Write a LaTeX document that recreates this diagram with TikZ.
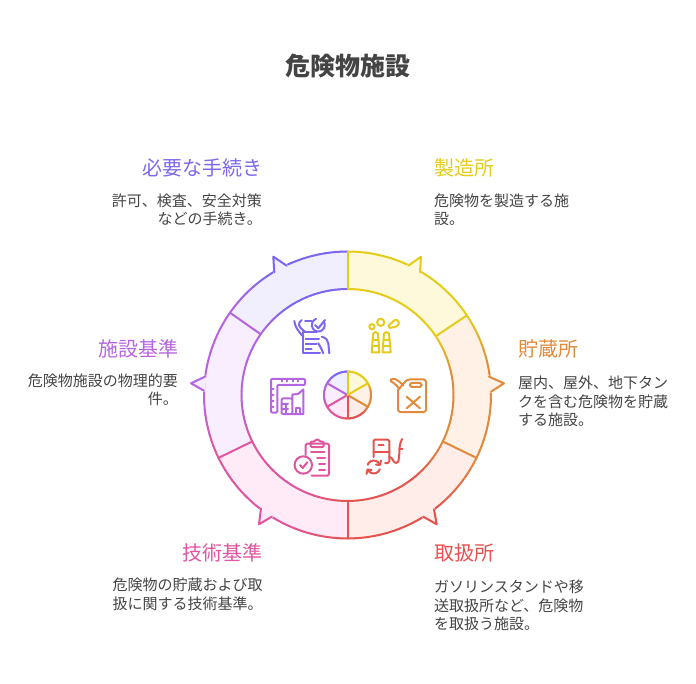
\documentclass[tikz,border=0pt]{standalone}
\usepackage{xcolor}
\usepackage{fontspec}
\setmainfont{Noto Sans CJK JP}
\usetikzlibrary{positioning, calc}
\definecolor{cYellow}{HTML}{E5CC1A}
\definecolor{cOrange}{HTML}{E08A3C}
\definecolor{cRed}{HTML}{E5534F}
\definecolor{cPink}{HTML}{E0559F}
\definecolor{cPurple}{HTML}{B565E0}
\definecolor{cIndigo}{HTML}{7B68EE}
\definecolor{pYellow}{HTML}{FFF9DB}
\definecolor{pOrange}{HTML}{FFF1E5}
\definecolor{pRed}{HTML}{FFEDEA}
\definecolor{pPink}{HTML}{FEEBF7}
\definecolor{pPurple}{HTML}{F9EEFE}
\definecolor{pIndigo}{HTML}{F1EFFE}
\definecolor{txtGray}{HTML}{444444}
\tikzset{
	segline/.style={line width=2pt, line cap=round, line join=round},
	iconline/.style={line width=2pt, line cap=round, line join=round},
	headlabel/.style={inner sep=0pt, font=\fontsize{20}{24}\selectfont},
	bodylabel/.style={inner sep=0pt, text=txtGray, font=\fontsize{15}{18.5}\selectfont}
}
% start angle, end angle, previous colour, own colour, fill, inner radius, outer radius
\newcommand{\ringSeg}[7]{
	\fill[#5] plot[domain=#1:#2, samples=40] ({347.5+#7*cos(\x)},{395-#7*sin(\x)})
		-- plot[domain=#2:#1, samples=40] ({347.5+#6*cos(\x)},{395-#6*sin(\x)}) -- cycle;
	\foreach \k in {0,...,23}{
		\pgfmathsetmacro{\aA}{#1+(#2-(#1))*\k/24}
		\pgfmathsetmacro{\aB}{#1+(#2-(#1))*(\k+1)/24}
		\pgfmathtruncatemacro{\mixp}{min(100,\k*100/9)}
		\draw[segline, draw=#4!\mixp!#3] ({347.5+#7*cos(\aA)},{395-#7*sin(\aA)}) -- ({347.5+#7*cos(\aB)},{395-#7*sin(\aB)})
			({347.5+#6*cos(\aA)},{395-#6*sin(\aA)}) -- ({347.5+#6*cos(\aB)},{395-#6*sin(\aB)});
	}
}
% arc point, tip, arc point, colour, fill
\newcommand{\ringTip}[5]{
	\filldraw[fill=#5, draw=#5, line width=2.4pt, line join=round] #1 -- #2 -- #3 -- cycle;
	\draw[segline, draw=#4] #1 -- #2 -- #3;
}
\begin{document}
\begin{tikzpicture}[x=1pt, y=-1pt]
	\useasboundingbox (0,0) rectangle (696,684);
	
	% Ring
	\ringSeg{90}{33.7}{cYellow}{cYellow}{pYellow}{106}{143.5}
	\ringSeg{33.7}{-26}{cYellow}{cOrange}{pOrange}{106}{143.5}
	\ringSeg{-26}{-90}{cOrange}{cRed}{pRed}{106}{143.5}
	\ringSeg{-90}{-154}{cRed}{cPink}{pPink}{106}{143.5}
	\ringSeg{-154}{-215}{cPink}{cPurple}{pPurple}{106}{143.5}
	\ringSeg{145}{90}{cPurple}{cIndigo}{pIndigo}{106}{143.5}
	\foreach \ang/\col in {33.7/cYellow, -26/cOrange, -90/cRed, -154/cPink, 145/cPurple, 90/cYellow}{
		\draw[segline, draw=\col] ({347.5+106*cos(\ang)},{395-106*sin(\ang)}) -- ({347.5+143.5*cos(\ang)},{395-143.5*sin(\ang)});
	}
	
	% Tips on the ring
	\ringTip{(408.3,265.7)}{(421,256.7)}{(420,272.3)}{cYellow}{pYellow}
	\ringTip{(489,376.7)}{(504,383.3)}{(491,391.7)}{cOrange}{pOrange}
	\ringTip{(423.3,516.7)}{(436.7,524.3)}{(434,509.3)}{cRed}{pRed}
	\ringTip{(271.7,516.7)}{(259,524.3)}{(261,508.3)}{cPink}{pPink}
	\ringTip{(205,376.7)}{(191,383.3)}{(204,390.7)}{cPurple}{pPurple}
	\ringTip{(286.7,265.7)}{(273.3,256.7)}{(274.3,272.3)}{cIndigo}{pIndigo}
	
	% Small pie in the middle
	\ringSeg{90}{30}{cYellow}{cYellow}{pYellow}{0}{23.5}
	\ringSeg{30}{-30}{cYellow}{cOrange}{pOrange}{0}{23.5}
	\ringSeg{-30}{-90}{cOrange}{cRed}{pRed}{0}{23.5}
	\ringSeg{-90}{-150}{cRed}{cPink}{pPink}{0}{23.5}
	\ringSeg{-150}{-210}{cPink}{cPurple}{pPurple}{0}{23.5}
	\ringSeg{150}{90}{cPurple}{cIndigo}{pIndigo}{0}{23.5}
	\foreach \ang/\col in {150/cPurple, -150/cPink, -30/cOrange, -90/cRed, 30/cYellow, 90/cYellow}{
		\draw[segline, draw=\col] (347.5,395) -- ({347.5+23.5*cos(\ang)},{395-23.5*sin(\ang)});
	}
	
	% Factory chimneys
	\begin{scope}[iconline, cYellow]
		\draw (371.7,352.3) -- (373.3,333.5) .. controls (374,331.5) and (377,331.5) .. (378,333.5) -- (379.3,352.3) -- cycle;
		\draw (382.5,352.3) -- (384,333.5) .. controls (385,331.5) and (388,331.5) .. (389,333.5) -- (390.7,352.3) -- cycle;
		\draw (372.5,340) -- (378.7,340) (372,346) -- (379,346);
		\draw (383.5,340) -- (389.7,340) (383,346) -- (390,346);
		\draw (372,326.7) circle[radius=2.6pt];
		\draw (380.7,322.3) circle[radius=3.6pt];
		\draw (389.5,328) .. controls (387,323.5) and (392,324) .. (393,321.5) .. controls (395,318) and (400.5,320.5) .. (398.5,324.5) .. controls (396.5,327.5) and (393,327) .. (389.5,328) -- cycle;
	\end{scope}
	
	% Jerrycan
	\begin{scope}[iconline, cOrange]
		\draw[rounded corners=2.5pt] (398,390) -- (398,412) -- (426,412) -- (426,379.5) -- (407,379.5) -- (398,390);
		\draw[rounded corners=1.5pt] (410,383) rectangle (421.5,387);
		\draw (406.7,396.7) -- (420,408.3) (420,396.7) -- (406.7,408.3);
		\draw (391,379.5) .. controls (393,378) and (395,379) .. (397,380) .. controls (400,382) and (402,384) .. (403.5,385.5);
		\draw (391,379.5) .. controls (390,381) and (391,382) .. (393,382.5) .. controls (396,384) and (397.5,387) .. (399.5,389.5);
	\end{scope}
	
	% Pump with refresh arrows
	\begin{scope}[iconline, cRed]
		\draw[rounded corners=1.5pt] (373.5,457) -- (373.5,439.5) -- (389.3,439.5) -- (389.3,463) -- (385,463);
		\draw (373.5,452) -- (389.3,452);
		\draw (378.7,444.7) -- (383.7,444.7);
		\draw (389.3,457) .. controls (393,457) and (393,463) .. (396,463) .. controls (400,463) and (399,455) .. (399.5,448) .. controls (400,444) and (401,441) .. (402,439);
		\draw (399.5,449) -- (402.5,449);
		\draw (367.6,464.8) arc[start angle=160, end angle=25, radius=6.5pt];
		\draw (379.8,469.2) arc[start angle=-20, end angle=-155, radius=6.5pt];
		\draw (376,464.5) -- (380,465) -- (381,460.5);
		\draw (371.5,470) -- (367.5,469.5) -- (366.5,474);
	\end{scope}
	
	% Clipboard with check
	\begin{scope}[iconline, cPink]
		\draw[rounded corners=1.5pt] (305.7,455) -- (305.7,443.5) -- (329,443.5) -- (329,475.7) -- (311.5,475.7);
		\draw[rounded corners=1pt] (310.7,441.5) -- (315,441.5) .. controls (315.5,439) and (319,439) .. (319.5,441.5) -- (323.5,441.5) -- (323.5,447) -- (310.7,447) -- cycle;
		\draw (311,451.5) -- (324.5,451.5) (317,457.5) -- (325,457.5) (319,463.5) -- (325,463.5) (319,470) -- (325,470);
		\draw (303.3,465) circle[radius=8.7pt];
		\draw (300,465) -- (302.7,468) -- (307.3,462.3);
	\end{scope}
	
	% Ruler and building
	\begin{scope}[iconline, cPurple]
		\draw[rounded corners=1pt] (271,379) -- (305,379) -- (305,385) -- (277.3,385) -- (277.3,412.5) -- (271,412.5) -- cycle;
		\foreach \tx in {281.5,287,292.5,298}{\draw (\tx,379) -- (\tx,381.5);}
		\foreach \ty in {389,395,401,407}{\draw (271,\ty) -- (273.5,\ty);}
		\draw[rounded corners=1pt] (281.7,398.5) -- (292.3,398.5) -- (292.3,414) -- (281.7,414) -- cycle;
		\draw (292.3,398.5) -- (292.3,394.5) -- (298,394) -- (303.3,389.5) -- (303.3,414) -- (292.3,414);
		\draw (281.7,403.5) -- (288,403.5) (281.7,408.5) -- (288,408.5) (286,403.5) -- (286,414);
		\draw (295.8,414) -- (295.8,408) -- (300,408) -- (300,414);
	\end{scope}
	
	% Paper held in two hands
	\begin{scope}[iconline, cIndigo]
		\draw (316.7,332) -- (302.7,332) -- (302.7,353.3) -- (320,353.3);
		\draw (305.5,339) -- (319,339) (305.5,344) -- (316.7,344) (305.5,349) -- (311.7,349);
		\draw (294.3,321) .. controls (295,326) and (297,330) .. (303.3,336.7);
		\draw (301.7,320) .. controls (298,323) and (297,326) .. (305,331.7);
		\draw (305,321) -- (311.7,321);
		\draw (323.6,321.3) arc[start angle=35, end angle=-250, radius=6.5pt];
		\draw (315,325) -- (318.3,328.3) -- (325,320);
		\draw (321.7,336.7) .. controls (326,338) and (328,340) .. (328.3,343.3) -- (329.3,353.3);
		\draw (318.3,343.3) .. controls (320,346) and (322,350) .. (323.3,353.3);
	\end{scope}
	
	% Title
	\node[inner sep=0pt, text=txtGray, font=\fontsize{25}{30}\selectfont\bfseries] (title) at (348,66.5) {危険物施設};
	
	% Headings
	\node[headlabel, anchor=east, text=cIndigo] (headProc) at (262.5,168) {必要な手続き};
	\node[headlabel, anchor=west, text=cYellow] (headMake) at (434.5,168) {製造所};
	\node[headlabel, anchor=west, text=cOrange] (headStore) at (518,348.5) {貯蔵所};
	\node[headlabel, anchor=west, text=cRed] (headHandle) at (434.5,552.5) {取扱所};
	\node[headlabel, anchor=east, text=cPink] (headTech) at (262.5,552.5) {技術基準};
	\node[headlabel, anchor=east, text=cPurple] (headFacil) at (178.5,348.5) {施設基準};
	
	% Descriptions
	\node[bodylabel, anchor=north east, align=right] (bodyProc) at (262,193.5) {許可、検査、安全対策\\などの手続き。};
	\node[bodylabel, anchor=north west, align=left] (bodyMake) at (434,193.5) {危険物を製造する施\\設。};
	\node[bodylabel, anchor=north west, align=left] (bodyStore) at (518,376) {屋内、屋外、地下タン\\クを含む危険物を貯蔵\\する施設。};
	\node[bodylabel, anchor=north west, align=left] (bodyHandle) at (434,580) {ガソリンスタンドや移\\送取扱所など、危険物\\を取扱う施設。};
	\node[bodylabel, anchor=north west, align=left] (bodyTech) at (112.5,578) {危険物の貯蔵および取\\扱に関する技術基準。};
	\node[bodylabel, anchor=north east, align=right] (bodyFacil) at (178,373.5) {危険物施設の物理的要\\件。};
\end{tikzpicture}
\end{document}
